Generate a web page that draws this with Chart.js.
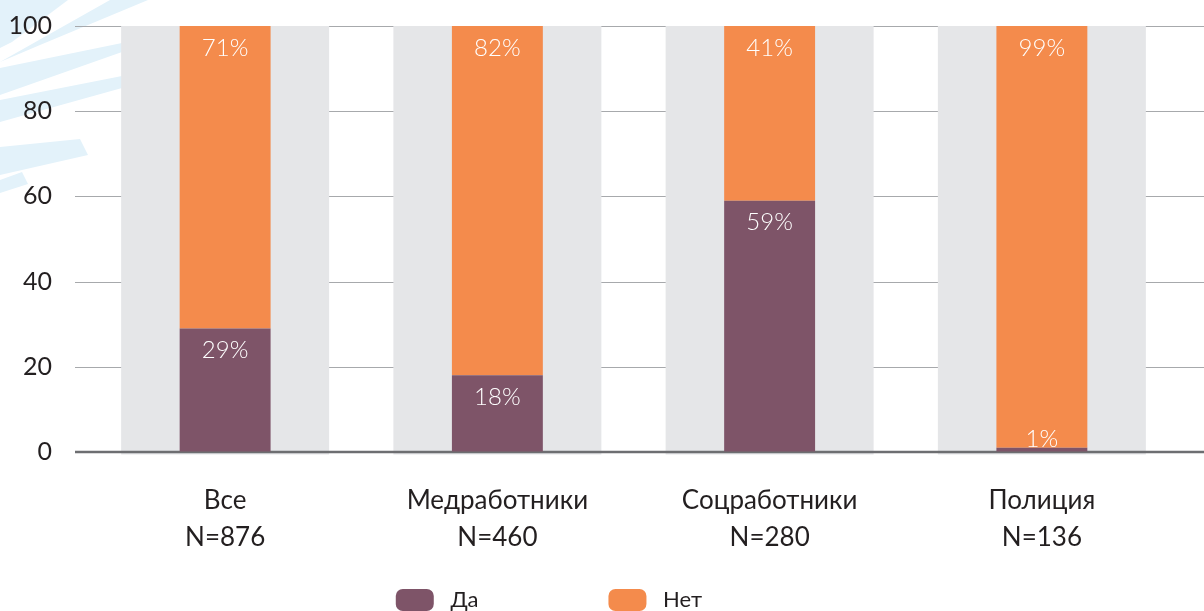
<!DOCTYPE html>
<html>
<head>
<meta charset="utf-8">
<script src="https://cdn.jsdelivr.net/npm/chart.js@4.4.0/dist/chart.umd.min.js"></script>
<style>
html, body { margin: 0; padding: 0; background: #fff; }
#wrap { width: 1204px; height: 611px; position: relative; }
</style>
</head>
<body>
<div id="wrap"><canvas id="chartContainer"></canvas></div>
<script>
var categories = [['Все', 'N=876'], ['Медработники', 'N=460'], ['Соцработники', 'N=280'], ['Полиция', 'N=136']];
var seriesNames = ['Да', 'Нет'];
var yesValues = [29, 18, 59, 1];
var noValues = [71, 82, 41, 99];
var backValues = [100, 100, 100, 100];
var yTicks = [0, 20, 40, 60, 80, 100];

var FONT = 'Lato';
var purple = '#7e5468';
var orange = '#f48b4c';

// light blue stripes in the top-left corner
var stripes = {
	id: 'stripes',
	beforeDraw: function (chart) {
		var ctx = chart.ctx;
		var shapes = [
			[[0, 0], [68, 0], [12, 42], [0, 48]],
			[[110, 0], [148, 0], [40, 45], [0, 62]],
			[[0, 68], [122, 43], [122, 52], [0, 95]],
			[[0, 100], [122, 76], [122, 88], [0, 122]],
			[[0, 147], [80, 139], [88, 155], [0, 175]],
			[[0, 180], [22, 172], [28, 184], [0, 193]]
		];
		ctx.save();
		ctx.fillStyle = '#e3f2fa';
		shapes.forEach(function (s) {
			ctx.beginPath();
			ctx.moveTo(s[0][0], s[0][1]);
			for (var i = 1; i < s.length; i++) ctx.lineTo(s[i][0], s[i][1]);
			ctx.closePath();
			ctx.fill();
		});
		ctx.restore();
	}
};

var gridLines = {
	id: 'gridLines',
	beforeDatasetsDraw: function (chart) {
		var y = chart.scales.y, ctx = chart.ctx;
		var x0 = chart.chartArea.left - 14;
		ctx.save();
		ctx.strokeStyle = '#a7a9ac';
		ctx.lineWidth = 1.2;
		yTicks.forEach(function (v) {
			if (v === 0) return;
			var py = Math.round(y.getPixelForValue(v)) + 0.5;
			ctx.beginPath();
			ctx.moveTo(x0, py);
			ctx.lineTo(chart.width, py);
			ctx.stroke();
		});
		ctx.restore();
	},
	afterDatasetDraw: function (chart, args) {
		if (args.index !== 2) return;
		var ctx = chart.ctx;
		var py = chart.scales.y.getPixelForValue(0);
		ctx.save();
		ctx.strokeStyle = '#6d6e71';
		ctx.lineWidth = 2.5;
		ctx.beginPath();
		ctx.moveTo(chart.chartArea.left - 14, py);
		ctx.lineTo(chart.width, py);
		ctx.stroke();
		ctx.restore();
	}
};

var valueLabels = {
	id: 'valueLabels',
	afterDatasetsDraw: function (chart) {
		var ctx = chart.ctx;
		ctx.save();
		ctx.fillStyle = '#ffffff';
		ctx.font = '300 24px ' + FONT;
		ctx.textAlign = 'center';
		ctx.textBaseline = 'middle';
		[0, 1].forEach(function (di) {
			var meta = chart.getDatasetMeta(di);
			var vals = chart.data.datasets[di].data;
			meta.data.forEach(function (bar, i) {
				var top = Math.min(bar.y, bar.base);
				var bottom = Math.max(bar.y, bar.base);
				var ty = Math.min(top + 22, bottom - 12);
				ctx.fillText(vals[i] + '%', bar.x, ty);
			});
		});
		ctx.restore();
	}
};

var nb = '\u00a0';
function pad(n) { return new Array(n + 1).join(nb); }

var ctxEl = document.getElementById('chartContainer').getContext('2d');
var myChart = new Chart(ctxEl, {
	type: 'bar',
	data: {
		labels: categories,
		datasets: [
			{ label: seriesNames[0], data: yesValues, backgroundColor: purple, stack: 'a', order: 0, barPercentage: 0.334, categoryPercentage: 1 },
			{ label: seriesNames[1], data: noValues, backgroundColor: orange, stack: 'a', order: 0, barPercentage: 0.334, categoryPercentage: 1 },
			// grey column behind each bar
			{ label: 'bg', data: backValues, backgroundColor: '#e5e6e8', stack: 'b', order: 2, grouped: false, base: -0.6, clip: false, barPercentage: 0.764, categoryPercentage: 1 }
		]
	},
	options: {
		responsive: true,
		maintainAspectRatio: false,
		animation: false,
		layout: { padding: { left: 10, right: 26, top: 26, bottom: -10 } },
		scales: {
			x: {
				stacked: true,
				grid: { display: false },
				border: { display: false },
				ticks: { color: '#231f20', padding: 22, font: { family: FONT, size: 26, lineHeight: 1.42 } },
				afterFit: function (scale) { scale.height = 131; }
			},
			y: {
				stacked: true,
				min: 0,
				max: 100,
				grid: { display: true, color: 'rgba(0,0,0,0)', drawOnChartArea: false, drawTicks: true, tickLength: 30 },
				border: { display: false },
				ticks: { stepSize: 20, color: '#231f20', padding: 7, font: { family: FONT, size: 25 } },
				afterFit: function (scale) { scale.width = 79; }
			}
		},
		plugins: {
			tooltip: { enabled: false },
			legend: {
				position: 'bottom',
				labels: {
					color: '#231f20',
					font: { family: FONT, size: 22 },
					boxWidth: 38,
					boxHeight: 22,
					useBorderRadius: true,
					borderRadius: 7,
					padding: 6,
					filter: function (item) { return item.datasetIndex !== 2; },
					generateLabels: function (chart) {
						var items = Chart.defaults.plugins.legend.labels.generateLabels(chart);
						items.forEach(function (it) {
							it.lineWidth = 0;
							if (it.datasetIndex === 0) it.text = nb + it.text + pad(22);
							if (it.datasetIndex === 1) it.text = nb + it.text + pad(16);
						});
						return items;
					}
				}
			}
		}
	},
	plugins: [stripes, gridLines, valueLabels]
});
</script>
</body>
</html>
